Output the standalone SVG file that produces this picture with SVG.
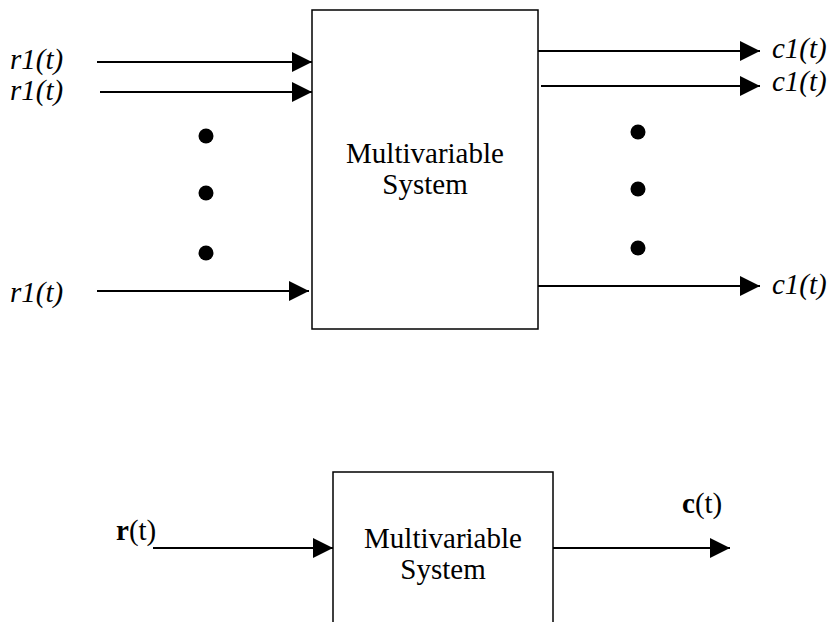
<svg xmlns="http://www.w3.org/2000/svg" width="830" height="622" viewBox="0 0 830 622">
<defs>
<marker id="ah" markerUnits="userSpaceOnUse" markerWidth="20" markerHeight="20" refX="20" refY="10" orient="auto">
<path d="M0,0 L20,10 L0,20 Z" fill="#000"/>
</marker>
<style>
.box{fill:#fff;stroke:#000;stroke-width:1.5}
.ln{stroke:#000;stroke-width:2;fill:none;marker-end:url(#ah)}
.lbl{font-family:"Liberation Serif","Times New Roman",serif;font-size:29px;font-style:italic;fill:#000}
.sys{font-family:"Liberation Serif","Times New Roman",serif;font-size:29px;fill:#000;text-anchor:middle}
.vec{font-family:"Liberation Serif","Times New Roman",serif;font-size:29px;fill:#000}
.dot{fill:#000}
</style>
</defs>
<rect width="830" height="622" fill="#fff"/>
<g id="system-top">
<rect class="box" x="312" y="10" width="226" height="319"/>
<text class="sys" x="425" y="163">Multivariable</text>
<text class="sys" x="425" y="194">System</text>
</g>
<g id="system-bottom">
<rect class="box" x="333" y="472" width="220" height="170"/>
<text class="sys" x="443" y="548">Multivariable</text>
<text class="sys" x="443" y="579">System</text>
</g>
<g id="labels">
<text class="lbl" x="10" y="69">r1(t)</text>
<text class="lbl" x="10" y="100">r1(t)</text>
<text class="lbl" x="10" y="302">r1(t)</text>
<text class="lbl" x="772" y="58">c1(t)</text>
<text class="lbl" x="772" y="91">c1(t)</text>
<text class="lbl" x="772" y="294">c1(t)</text>
<text class="vec" x="116" y="540"><tspan font-weight="bold">r</tspan>(t)</text>
<text class="vec" x="682" y="513"><tspan font-weight="bold">c</tspan>(t)</text>
</g>
<g id="dots">
<circle class="dot" cx="206" cy="136" r="7.5"/>
<circle class="dot" cx="206" cy="193" r="7.5"/>
<circle class="dot" cx="206" cy="253" r="7.5"/>
<circle class="dot" cx="638" cy="132" r="7.5"/>
<circle class="dot" cx="638" cy="189" r="7.5"/>
<circle class="dot" cx="638" cy="248" r="7.5"/>
</g>
<g id="connectors">
<line class="ln" x1="97" y1="62" x2="312" y2="62"/>
<line class="ln" x1="100" y1="92" x2="312" y2="92"/>
<line class="ln" x1="97" y1="291" x2="309" y2="291"/>
<line class="ln" x1="538" y1="51" x2="760" y2="51"/>
<line class="ln" x1="541" y1="86" x2="760" y2="86"/>
<line class="ln" x1="538" y1="286" x2="760" y2="286"/>
<line class="ln" x1="153" y1="548" x2="333" y2="548"/>
<line class="ln" x1="553" y1="548" x2="730" y2="548"/>
</g>
</svg>
